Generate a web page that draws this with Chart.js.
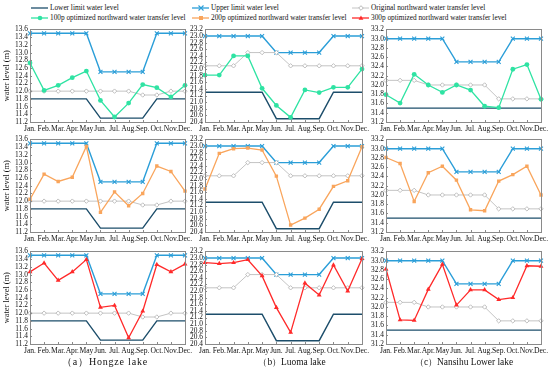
<!DOCTYPE html>
<html>
<head>
<meta charset="utf-8">
<script src="https://cdn.jsdelivr.net/npm/chart.js@4.4.1/dist/chart.umd.min.js"></script>
<style>
  html, body { margin: 0; padding: 0; background: #fff; }
  #wrap { position: relative; width: 550px; height: 373px; overflow: hidden; font-family: "Liberation Serif", "DejaVu Serif", serif; }
  canvas.c { position: absolute; }
  .leg { position: absolute; font-size: 7.3px; color: #111; white-space: nowrap; line-height: 10px; }
  .leg svg { position: absolute; left: 0; top: 0; }
  .leg span { position: absolute; left: 19px; top: 0; }
  .cap { position: absolute; font-size: 9.4px; color: #111; white-space: nowrap; transform: translateX(-50%); line-height: 12px; }
</style>
</head>
<body>
<div id="wrap">
  <div class="leg" style="left:31px;top:3px;"><svg width="18" height="10"><line x1="0" y1="5" x2="17" y2="5" stroke="#1d4e6b" stroke-width="1.3"/></svg><span>Lower limit water level</span></div>
  <div class="leg" style="left:192px;top:3px;"><svg width="18" height="10"><line x1="0" y1="5" x2="17" y2="5" stroke="#2b9ed8" stroke-width="1.3"/><path d="M6.5 2.5 L11.5 7.5 M11.5 2.5 L6.5 7.5" stroke="#2b9ed8" stroke-width="1.1"/></svg><span>Upper limit water level</span></div>
  <div class="leg" style="left:352px;top:3px;"><svg width="18" height="10"><line x1="0" y1="5" x2="17" y2="5" stroke="#c4c4c4" stroke-width="1"/><path d="M9 2.7 L11.3 5 L9 7.3 L6.7 5 Z" fill="#fff" stroke="#b0b0b0" stroke-width="0.9"/></svg><span>Original northward water transfer level</span></div>
  <div class="leg" style="left:31px;top:13px;"><svg width="18" height="10"><line x1="0" y1="5" x2="17" y2="5" stroke="#2fe3a3" stroke-width="1.3"/><circle cx="9" cy="5" r="2.3" fill="#2fe3a3"/></svg><span>100p optimized northward water transfer level</span></div>
  <div class="leg" style="left:192px;top:13px;"><svg width="18" height="10"><line x1="0" y1="5" x2="17" y2="5" stroke="#f9a55c" stroke-width="1.3"/><rect x="7" y="3" width="4" height="4" fill="#f9a55c"/></svg><span>200p optimized northward water transfer level</span></div>
  <div class="leg" style="left:352px;top:13px;"><svg width="18" height="10"><line x1="0" y1="5" x2="17" y2="5" stroke="#ff2a2a" stroke-width="1.3"/><path d="M9 2.4 L11.4 6.8 L6.6 6.8 Z" fill="#ff2a2a"/></svg><span>300p optimized northward water transfer level</span></div>

  <canvas class="c" id="c00"></canvas><canvas class="c" id="c01"></canvas><canvas class="c" id="c02"></canvas>
  <canvas class="c" id="c10"></canvas><canvas class="c" id="c11"></canvas><canvas class="c" id="c12"></canvas>
  <canvas class="c" id="c20"></canvas><canvas class="c" id="c21"></canvas><canvas class="c" id="c22"></canvas>

  <div class="cap" style="left:105px;top:356px;font-size:10px;letter-spacing:0.8px;">（a）Hongze lake</div>
  <div class="cap" style="left:292px;top:356px;">（b）Luoma lake</div>
  <div class="cap" style="left:464px;top:356px;">（c）Nansihu Lower lake</div>
</div>
<script>
// ---------------- DATA ----------------
const months = ["Jan.","Feb.","Mar.","Apr.","May","Jun.","Jul.","Aug.","Sep.","Oct.","Nov.","Dec."];

// Hongze lake
const hongzeLower    = [11.8,11.8,11.8,11.8,11.8,11.3,11.3,11.3,11.3,11.8,11.8,11.8];
const hongzeUpper    = [13.5,13.5,13.5,13.5,13.5,12.5,12.5,12.5,12.5,13.5,13.5,13.5];
const hongzeOriginal = [12.0,12.0,12.0,12.0,12.0,12.0,12.0,12.0,11.9,11.9,12.0,12.0];
const hongze100p     = [12.73,12.02,12.15,12.35,12.52,11.76,11.33,11.69,12.17,12.09,11.85,12.15];
const hongze200p     = [12.05,12.70,12.51,12.62,13.42,11.71,12.24,11.88,12.20,12.91,12.77,12.26];
const hongze300p     = [13.07,13.30,12.85,13.07,13.39,12.15,12.20,11.36,12.05,13.26,13.07,13.27];

// Luoma lake
const luomaLower     = [21.3,21.3,21.3,21.3,21.3,20.5,20.5,20.5,20.5,21.3,21.3,21.3];
const luomaUpper     = [23.0,23.0,23.0,23.0,23.0,22.5,22.5,22.5,22.5,23.0,23.0,23.0];
const luomaOriginal  = [22.1,22.1,22.1,22.5,22.5,22.5,22.1,22.1,22.1,22.1,22.1,22.1];
const luoma100p      = [21.82,21.82,22.40,22.40,21.42,20.90,20.54,21.37,21.29,21.45,21.45,22.00];
const luoma200p      = [21.70,22.78,22.92,22.94,22.88,22.09,20.61,20.82,21.09,21.78,21.95,22.98];
const luoma300p      = [22.86,22.83,22.86,22.95,22.46,21.50,20.75,22.24,21.88,22.79,22.00,22.98];

// Nansihu Lower lake
const nansihuLower    = [31.5,31.5,31.5,31.5,31.5,31.5,31.5,31.5,31.5,31.5,31.5,31.5];
const nansihuUpper    = [33.0,33.0,33.0,33.0,33.0,32.5,32.5,32.5,32.5,33.0,33.0,33.0];
const nansihuOriginal = [32.1,32.1,32.1,32.0,32.0,32.0,32.0,32.0,31.7,31.7,31.7,31.7];
const nansihu100p     = [31.79,31.61,32.23,32.00,31.84,32.00,31.89,31.54,31.51,32.34,32.44,31.69];
const nansihu200p     = [32.81,32.68,31.86,32.48,32.62,32.32,31.68,31.66,32.30,32.44,32.62,32.00];
const nansihu300p     = [32.82,31.72,31.71,32.38,32.92,32.04,32.37,32.37,32.16,32.20,32.89,32.88];

// Axis ranges
const hongzeRange  = [11.2, 13.6];
const luomaRange   = [20.4, 23.2];
const nansihuRange = [31.2, 33.2];

// ---------------- STYLE / LAYOUT ----------------
const FONT = "Liberation Serif";
const C_LOWER = "#1d4e6b", C_UPPER = "#2b9ed8", C_ORIG = "#c4c4c4";
const C_100 = "#2fe3a3", C_200 = "#f9a55c", C_300 = "#ff2a2a";

const colLeft  = [30, 204.5, 385.5];
const colRight = [185, 361.5, 540.5];
const rowTop   = [28.5, 139.3, 250.9];
const plotH    = 93.2;
const PAD_T = 6, PAD_R = 10, AX_B = 13;

const framePlugin = {
  id: 'frame',
  afterDraw(chart) {
    const a = chart.chartArea, ctx = chart.ctx;
    ctx.save();
    ctx.strokeStyle = "#8a8a8a";
    ctx.lineWidth = 1;
    ctx.strokeRect(Math.round(a.left) + 0.5, Math.round(a.top) + 0.5, Math.round(a.right - a.left), Math.round(a.bottom - a.top));
    const xs = chart.scales.x, ys = chart.scales.y;
    ctx.beginPath();
    xs.ticks.forEach((t, i) => {
      const px = Math.round(xs.getPixelForTick(i)) + 0.5;
      ctx.moveTo(px, a.bottom); ctx.lineTo(px, a.bottom - 2);
    });
    ys.ticks.forEach((t, i) => {
      const py = Math.round(ys.getPixelForTick(i)) + 0.5;
      ctx.moveTo(a.left, py); ctx.lineTo(a.left + 2, py);
    });
    ctx.stroke();
    ctx.restore();
  }
};

function makeChart(id, row, col, range, lower, upper, orig, opt, optKind, showTitle) {
  const axW = col === 0 ? 30 : (col === 1 ? 20 : 21);
  const left = colLeft[col] - axW;
  const width = (colRight[col] - colLeft[col]) + axW + PAD_R;
  const top = rowTop[row] - PAD_T;
  const height = plotH + PAD_T + AX_B;
  const cv = document.getElementById(id);
  cv.width = Math.round(width); cv.height = Math.round(height);
  cv.style.left = left + "px"; cv.style.top = top + "px";

  const optStyle = {
    '100': { color: C_100, style: 'circle', r: 2.4 },
    '200': { color: C_200, style: 'rect', r: 2.4 },
    '300': { color: C_300, style: 'triangle', r: 2.8 }
  }[optKind];

  new Chart(cv, {
    type: 'line',
    data: {
      labels: months,
      datasets: [
        { data: lower, borderColor: C_LOWER, borderWidth: 1.4, pointRadius: 0, tension: 0, order: 4 },
        { data: upper, borderColor: C_UPPER, borderWidth: 1.4, pointStyle: 'crossRot', pointRadius: 2.8,
          pointBorderColor: C_UPPER, pointBorderWidth: 1.1, tension: 0, order: 3 },
        { data: orig, borderColor: C_ORIG, borderWidth: 1, pointStyle: 'rectRot', pointRadius: 2.2,
          pointBackgroundColor: "#fff", pointBorderColor: "#b0b0b0", pointBorderWidth: 0.8, tension: 0, order: 2 },
        { data: opt, borderColor: optStyle.color, borderWidth: 1.3, pointStyle: optStyle.style, pointRadius: optStyle.r,
          pointBackgroundColor: optStyle.color, pointBorderColor: optStyle.color, pointBorderWidth: 0, tension: 0, order: 1 }
      ]
    },
    options: {
      responsive: false,
      animation: false,
      devicePixelRatio: 1,
      layout: { padding: { top: PAD_T, right: PAD_R, left: 0, bottom: 0 } },
      plugins: { legend: { display: false }, tooltip: { enabled: false } },
      elements: { line: { fill: false } },
      scales: {
        x: {
          offset: false,
          grid: { display: false, drawTicks: false },
          border: { display: false },
          ticks: { autoSkip: false, maxRotation: 0, padding: 2, color: "#111", font: { family: FONT, size: 7.6 } },
          afterFit(s) { s.height = AX_B; }
        },
        y: {
          min: range[0], max: range[1],
          grid: { display: false, drawTicks: false },
          border: { display: false },
          ticks: { stepSize: 0.2, autoSkip: false, padding: 2, color: "#111",
                   font: { family: FONT, size: 7.4 },
                   callback: v => Number(v).toFixed(1) },
          title: { display: showTitle, text: "water level (m)", color: "#111",
                   font: { family: FONT, size: 8.4 }, padding: { top: 2, bottom: 0 } },
          afterFit(s) { s.width = axW; }
        }
      }
    },
    plugins: [framePlugin]
  });
}

makeChart('c00', 0, 0, hongzeRange,  hongzeLower,  hongzeUpper,  hongzeOriginal,  hongze100p,  '100', true);
makeChart('c01', 0, 1, luomaRange,   luomaLower,   luomaUpper,   luomaOriginal,   luoma100p,   '100', false);
makeChart('c02', 0, 2, nansihuRange, nansihuLower, nansihuUpper, nansihuOriginal, nansihu100p, '100', false);
makeChart('c10', 1, 0, hongzeRange,  hongzeLower,  hongzeUpper,  hongzeOriginal,  hongze200p,  '200', true);
makeChart('c11', 1, 1, luomaRange,   luomaLower,   luomaUpper,   luomaOriginal,   luoma200p,   '200', false);
makeChart('c12', 1, 2, nansihuRange, nansihuLower, nansihuUpper, nansihuOriginal, nansihu200p, '200', false);
makeChart('c20', 2, 0, hongzeRange,  hongzeLower,  hongzeUpper,  hongzeOriginal,  hongze300p,  '300', true);
makeChart('c21', 2, 1, luomaRange,   luomaLower,   luomaUpper,   luomaOriginal,   luoma300p,   '300', false);
makeChart('c22', 2, 2, nansihuRange, nansihuLower, nansihuUpper, nansihuOriginal, nansihu300p, '300', false);
</script>
</body>
</html>
